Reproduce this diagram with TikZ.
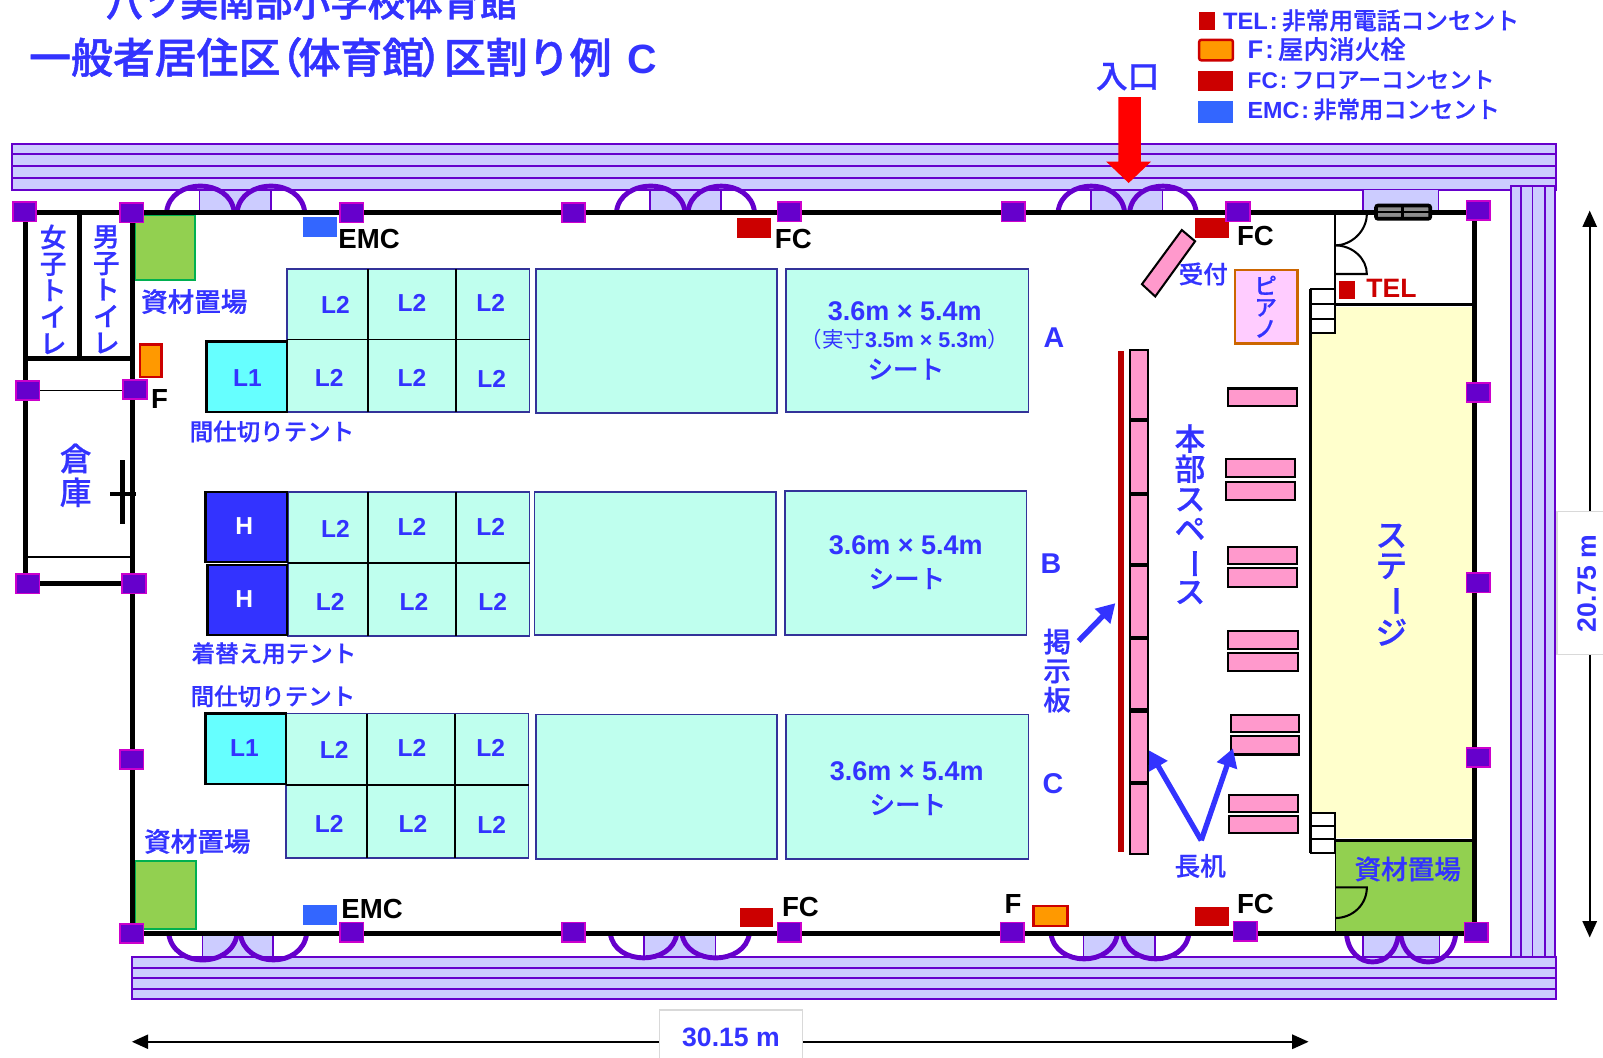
\documentclass[tikz,border=0pt]{standalone}
\usepackage{fontspec}
\setmainfont{Noto Sans CJK JP}[BoldFont={Noto Sans CJK JP Medium},BoldFeatures={FakeBold=0.6}]
\newfontfamily\lat{Liberation Sans}
\newfontfamily\ttl{Noto Sans CJK JP Medium}[FakeBold=1.2]
\usetikzlibrary{arrows.meta}
\definecolor{tb}{HTML}{3333FF}
\definecolor{band}{HTML}{CCCCFF}
\definecolor{pur}{HTML}{6600CC}
\definecolor{mag}{HTML}{CC00CC}
\definecolor{sheet}{HTML}{BFFFEE}
\definecolor{sheetl}{HTML}{333399}
\definecolor{cyanb}{HTML}{66FFFF}
\definecolor{hblue}{HTML}{3333FF}
\definecolor{grn}{HTML}{92D050}
\definecolor{grnl}{HTML}{00B050}
\definecolor{dred}{HTML}{CC0000}
\definecolor{emc}{HTML}{3366FF}
\definecolor{org}{HTML}{FF9900}
\definecolor{pinkt}{HTML}{FF99CC}
\definecolor{pianof}{HTML}{FFCCFF}
\definecolor{pianol}{HTML}{CC6600}
\definecolor{stg}{HTML}{FFFFCC}
\newcommand\fs[1]{\fontsize{#1}{#1}\selectfont}
\newcommand\vbar{\rotatebox[origin=c]{-90}{ー}}
\newcommand\cln{\kern1pt{\lat\bfseries :}\kern2pt}
\tikzset{
 x=0.5pt,y=-0.5pt,
 bandst/.style={fill=band,draw=pur,line width=0.8pt},
 bandline/.style={draw=pur,line width=0.9pt},
 wall/.style={draw=black,line width=2.4pt},
 thinwall/.style={draw=black,line width=0.9pt},
 pillar/.style={fill=pur,draw=mag,line width=0.8pt,minimum width=11.5pt,minimum height=9.5pt,inner sep=0},
 sheetst/.style={fill=sheet,draw=sheetl,line width=0.8pt},
 cell/.style={draw=black,line width=0.8pt},
 tent/.style={draw=black,line width=1.1pt},
 tbl/.style={fill=pinkt,draw=black,line width=1pt},
 redbox/.style={fill=dred,draw=none},
 emcbox/.style={fill=emc,draw=none},
 hyd/.style={fill=org,draw=dred,line width=1.2pt},
 gbox/.style={fill=grn,draw=grnl,line width=0.8pt},
 lb/.style={text=tb,inner sep=0,font=\fs{11.5}\bfseries},
 vb/.style={text=tb,inner sep=0,align=center},
 l2/.style={text=tb,inner sep=0,font=\lat\fs{12}\bfseries},
 bk/.style={text=black,inner sep=0,font=\lat\fs{13.5}\bfseries},
 dim/.style={line width=0.9pt,draw=black,{Triangle[length=8pt,width=7pt]}-{Triangle[length=8pt,width=7pt]}},
 dimbox/.style={fill=white,draw=black!15,line width=0.6pt},
 bluearrow/.style={draw=tb,line width=2.6pt,-{Triangle[length=9pt,width=10pt]}},
 doorarc/.style={draw=pur,line width=2.4pt,line cap=round},
 doorline/.style={draw=pur,line width=0.8pt},
 doorfill/.style={fill=band,draw=none},
}
% pair of doors: a1,c1,b1,a2,c2,b2,wall y,peak y,band y
\newcommand\dbl[9]{%
 \fill[doorfill] (#2,#7) rectangle (#5,#9);
 \draw[doorline] (#2,#7)--(#2,#9);
 \draw[doorline] (#5,#7)--(#5,#9);
 \draw[doorline] (#2,#9)--(#5,#9);
 \draw[doorarc] (#1,#7) .. controls ({#1+0.06*(#3-#1)},{#7+1.33*(#8-#7)}) and ({#3-0.06*(#3-#1)},{#7+1.33*(#8-#7)}) .. (#3,#7);
 \draw[doorarc] (#4,#7) .. controls ({#4+0.06*(#6-#4)},{#7+1.33*(#8-#7)}) and ({#6-0.06*(#6-#4)},{#7+1.33*(#8-#7)}) .. (#6,#7);
}
\begin{document}
\begin{tikzpicture}
\useasboundingbox (0,0) rectangle (1568,1034);
\fill[white] (0,0) rectangle (1568,1034);
% title
\node[text=tb,inner sep=0,anchor=west,font=\ttl\fs{18.3}] (title1) at (103,2) {八ツ美南部小学校体育館};
\node[text=tb,inner sep=0,anchor=west,font=\ttl\fs{20.5}] (title2) at (28,56) {一般者居住区\kern-.47em（\kern-.1em 体育館\kern-.1em）\kern-.43em 区割り例\kern-.12em\ {\lat\bfseries\fs{20} C}};
% legend
\fill[redbox] (1173,12) rectangle (1188,29);
\draw[hyd,rounded corners=1pt] (1173,39) rectangle (1206,59);
\fill[redbox] (1172,69) rectangle (1206,89);
\fill[emcbox] (1172,99) rectangle (1206,120);
\node[lb,anchor=west,font=\fs{11.6}\bfseries] (legtel) at (1196,20) {{\lat TEL}\cln 非常用電話コンセント};
\node[lb,anchor=west,font=\fs{12.5}\bfseries] (legf) at (1220,48) {{\lat F}\cln 屋内消火栓};
\node[lb,anchor=west,font=\fs{11.1}\bfseries] (legfc) at (1220,78) {{\lat FC}\cln フロアーコンセント};
\node[lb,anchor=west,font=\fs{11.4}\bfseries] (legemc) at (1220,107) {{\lat EMC}\cln 非常用コンセント};
% bands
\draw[bandst] (12,141) rectangle (1522,186);
\foreach \y in {151,162,174} \draw[bandline] (12,\y)--(1522,\y);
\draw[bandst] (1478,182) rectangle (1521,936);
\foreach \x in {1488,1499,1511} \draw[bandline] (\x,182)--(\x,936);
\draw[bandst] (129,936) rectangle (1522,977);
\foreach \y in {947,957,967} \draw[bandline] (129,\y)--(1522,\y);
\node[text=tb,inner sep=0,font=\fs{15.5}\bfseries] (entr) at (1103,75) {入口};
% green areas + stage
\draw[gbox] (132,210) rectangle (191,274);
\draw[gbox] (132,842) rectangle (192,909);
\fill[stg] (1282,300) rectangle (1440,820);
\fill[grn] (1306,822) rectangle (1440,911);
% doors
\dbl{163}{195}{229}{232}{265}{298}{207}{182}{186}
\dbl{603}{636}{670}{673}{705}{738}{207}{182}{186}
\dbl{1035}{1067}{1100}{1105}{1137}{1170}{207}{182}{186}
\dbl{165}{198}{232}{235}{267}{300}{913}{939}{936}
\dbl{597}{630}{662}{667}{700}{733}{913}{937}{936}
\dbl{1028}{1060}{1093}{1098}{1130}{1163}{913}{938}{936}
\dbl{1317}{1333}{1368}{1370}{1408}{1424}{913}{941}{936}
% small window
\fill[band] (1333,186) rectangle (1407,208);
\draw[doorline] (1333,186)--(1333,208) (1407,186)--(1407,208);
% walls
\draw[wall] (24,208)--(1443,208);
\draw[wall] (130,913)--(1443,913);
\draw[wall] (130,208)--(130,913);
\draw[wall] (25,208)--(25,571)--(130,571);
\draw[wall] (78,208)--(78,351);
\draw[wall] (25,351)--(130,351);
\draw[wall] (1442,208)--(1442,913);
\draw[wall,line width=2.2pt] (120,450)--(120,513);
\draw[wall,line width=2.2pt] (108,483)--(133,483);
\draw[thinwall] (27,382)--(130,382);
\draw[thinwall] (27,545)--(130,545);
% stage lines
\draw[draw=black,line width=1.3pt] (1306,208)--(1306,300);
\draw[draw=black,line width=1.3pt] (1282,283)--(1282,834);
\draw[draw=black,line width=1.3pt] (1306,298)--(1442,298);
\draw[draw=black,line width=1.3pt] (1306,822)--(1442,822);
\draw[draw=black,line width=0.6pt] (1306,834)--(1306,913);
% stairs
\fill[white] (1282,283) rectangle (1306,326);
\draw[draw=black,line width=1.1pt] (1282,283) rectangle (1306,326);
\draw[draw=black,line width=0.9pt] (1282,297)--(1306,297) (1282,312)--(1306,312);
\fill[white] (1282,795) rectangle (1306,834);
\draw[draw=black,line width=1.1pt] (1282,795) rectangle (1306,834);
\draw[draw=black,line width=0.9pt] (1282,808)--(1306,808) (1282,821)--(1306,821);
% interior doors
\draw[draw=black,line width=1pt] (1306,240) .. controls (1322,240) and (1337,226) .. (1337,209);
\draw[draw=black,line width=1pt] (1306,240) .. controls (1323,240) and (1337,253) .. (1337,268)--(1306,268);
\draw[draw=black,line width=1pt] (1306,868)--(1337,868) .. controls (1337,885) and (1323,898) .. (1306,898);
% dark window frame
\draw[fill=black!45,draw=black,line width=1.8pt,rounded corners=1pt] (1346,201) rectangle (1399,214);
\draw[draw=black,line width=1.2pt] (1346,207.5)--(1399,207.5) (1372,201)--(1372,214);
% sheets row A
\draw[sheetst] (281,263) rectangle (518,403);
\draw[cell] (360,263)--(360,403) (446,263)--(446,403) (281,332)--(518,332);
\draw[sheetst] (524,263) rectangle (760,404);
\draw[sheetst] (769,263) rectangle (1006,403);
\draw[tent,fill=cyanb] (202,334) rectangle (281,403);
% row B
\draw[sheetst] (282,481) rectangle (518,622);
\draw[cell] (360,481)--(360,622) (446,481)--(446,622) (282,551)--(518,551);
\draw[sheetst] (523,481) rectangle (759,621);
\draw[sheetst] (768,480) rectangle (1004,621);
\draw[tent,fill=hblue] (201,481) rectangle (281,550);
\draw[tent,fill=hblue] (203,553) rectangle (281,621);
% row C
\draw[sheetst] (280,698) rectangle (517,839);
\draw[cell] (359,698)--(359,839) (445,698)--(445,839) (280,768)--(517,768);
\draw[sheetst] (524,699) rectangle (760,840);
\draw[sheetst] (769,699) rectangle (1006,840);
\draw[tent,fill=cyanb] (201,698) rectangle (280,767);
% L labels
\foreach \x/\y [count=\i] in {328/298,403/296,480/296,322/370,403/370,481/371,328/517,403/515,480/515,323/589,405/589,482/589,327/734,403/732,480/732,322/806,404/806,481/807}
 \node[l2] (ltwo\i) at (\x,\y) {L2};
\node[l2] (lone1) at (242,370) {L1};
\node[l2] (lone2) at (239,732) {L1};
\node[l2,text=white,font=\lat\fs{12}\bfseries] (h1) at (239,515) {H};
\node[l2,text=white,font=\lat\fs{12}\bfseries] (h2) at (239,586) {H};
% sheet text
\node[text=tb,inner sep=0,font=\lat\fs{13.2}\bfseries] (sa1) at (885,304) {3.6m × 5.4m};
\node[text=tb,inner sep=0,font=\fs{10.5}] (sa2) at (885,332) {（実寸{\lat\bfseries 3.5m × 5.3m}）};
\node[text=tb,inner sep=0,font=\fs{12.5}\bfseries] (sa3) at (886,361) {シート};
\node[text=tb,inner sep=0,font=\lat\fs{13.2}\bfseries] (sb1) at (886,533) {3.6m × 5.4m};
\node[text=tb,inner sep=0,font=\fs{12.5}\bfseries] (sb2) at (887,566) {シート};
\node[text=tb,inner sep=0,font=\lat\fs{13.2}\bfseries] (sc1) at (887,754) {3.6m × 5.4m};
\node[text=tb,inner sep=0,font=\fs{12.5}\bfseries] (sc2) at (888,787) {シート};
\node[text=tb,inner sep=0,font=\lat\fs{14}\bfseries] (ra) at (1031,330) {A};
\node[text=tb,inner sep=0,font=\lat\fs{14}\bfseries] (rb) at (1028,551) {B};
\node[text=tb,inner sep=0,font=\lat\fs{14}\bfseries] (rc) at (1030,767) {C};
% blue labels
\node[lb,font=\fs{13}\bfseries] (sz1) at (190,295) {資材置場};
\node[lb] (mj1) at (266,422) {間仕切りテント};
\node[lb] (kg) at (268,639) {着替え用テント};
\node[lb] (mj2) at (267,681) {間仕切りテント};
\node[lb,font=\fs{13}\bfseries] (sz2) at (193,823) {資材置場};
\node[lb,font=\fs{13}\bfseries] (sz3) at (1377,850) {資材置場};
\node[lb,font=\fs{12}\bfseries] (uketsuke) at (1177,268) {受付};
\node[lb,font=\fs{12.5}\bfseries] (nagaz) at (1174,847) {長机};
\node[vb,font=\fontsize{13}{13}\selectfont\bfseries] (wc1) at (52,283) {女\\子\\ト\\イ\\レ};
\node[vb,font=\fontsize{13}{13}\selectfont\bfseries] (wc2) at (104,283) {男\\子\\ト\\イ\\レ};
\node[vb,font=\fontsize{15.5}{16.5}\selectfont\bfseries] (soko) at (74,465) {倉\\庫};
\node[vb,font=\fontsize{13.5}{14.2}\selectfont\bfseries] (keiji) at (1034,656) {掲\\示\\板};
\node[vb,font=\fontsize{15}{14.7}\selectfont\bfseries] (honbu) at (1164,503) {本\\部\\ス\\ペ\\\vbar\\ス};
\node[vb,font=\fontsize{15.5}{15}\selectfont\bfseries] (stage) at (1361,572) {ス\\テ\\\vbar\\ジ};
% black labels
\node[bk] (emc1) at (361,234) {EMC};
\node[bk] (emc2) at (364,889) {EMC};
\node[bk] (fc1) at (776,234) {FC};
\node[bk] (fc2) at (783,887) {FC};
\node[bk] (fc3) at (1228,231) {FC};
\node[bk] (fc4) at (1228,884) {FC};
\node[bk] (f1) at (156,390) {F};
\node[bk] (f2) at (991,884) {F};
\node[bk,text=dred,font=\lat\fs{13}\bfseries] (tel) at (1361,282) {TEL};
% sockets
\fill[redbox] (721,213) rectangle (754,233);
\fill[redbox] (1169,213) rectangle (1202,233);
\fill[redbox] (724,888) rectangle (756,907);
\fill[redbox] (1169,887) rectangle (1202,906);
\fill[emcbox] (296,212) rectangle (330,232);
\fill[emcbox] (296,885) rectangle (330,905);
\fill[redbox] (1310,275) rectangle (1325,292);
\draw[hyd] (137,337) rectangle (158,369);
\draw[hyd] (1011,886) rectangle (1044,906);
% reception, piano
\draw[tbl] (1156,225)--(1169,236)--(1130,290)--(1117,278)--cycle;
\draw[fill=pianof,draw=pianol,line width=1.2pt] (1208,264) rectangle (1269,336);
\node[vb,font=\fontsize{11}{10.5}\selectfont\bfseries] (piano) at (1238,300) {ピ\\ア\\ノ};
% board and long tables
\fill[fill=dred!90!black] (1094,343) rectangle (1099,833);
\foreach \a/\b in {342/410,412/482,484/552,554/623,625/694,696/765,767/835}
 \draw[tbl] (1105,\a) rectangle (1123,\b);
\foreach \x/\a/\xx/\b in {1201/380/1269/397,1199/449/1267/467,1199/471/1267/489,1201/535/1269/552,1201/556/1269/574,1201/617/1270/635,1201/639/1270/656,1204/699/1271/716,1204/720/1271/738,1202/778/1270/794,1202/798/1270/815}
 \draw[tbl] (\x,\a) rectangle (\xx,\b);
% pillars
\foreach \x/\y [count=\i] in {24/207,129/208,344/208,561/208,772/207,991/207,1211/207,1446/206,27/382,132/381,27/571,131/571,129/743,129/913,344/912,561/912,772/912,990/912,1218/911,1444/912,1446/384,1446/570,1446/741}
 \node[pillar] (p\i) at (\x,\y) {};
% blue arrows
\coordinate (ak1) at (1055,627);
\coordinate (ak2) at (1091,590);
\coordinate (an0) at (1175,822);
\coordinate (an1) at (1124,734);
\coordinate (an2) at (1206,732);
\draw[bluearrow] (ak1)--(ak2);
\draw[bluearrow] (an0)--(an1);
\draw[bluearrow] (an0)--(an2);
% entrance arrow
\fill[red] (1094,95)--(1116,95)--(1116,158)--(1126,158)--(1104,179)--(1082,158)--(1094,158)--cycle;
% dimensions
\coordinate (dl) at (129,1019);
\coordinate (dr) at (1280,1019);
\coordinate (dt) at (1555,206);
\coordinate (db) at (1555,917);
\draw[dim] (dl)--(dr);
\draw[dim] (dt)--(db);
\draw[dimbox] (645,988) rectangle (785,1040);
\draw[dimbox] (1523,500) rectangle (1575,640);
\node[text=tb,inner sep=0,font=\lat\fs{13}\bfseries] (dw) at (715,1015) {30.15 m};
\node[text=tb,inner sep=0,font=\lat\fs{13}\bfseries,rotate=90] (dh) at (1552,571) {20.75 m};
\end{tikzpicture}
\end{document}
